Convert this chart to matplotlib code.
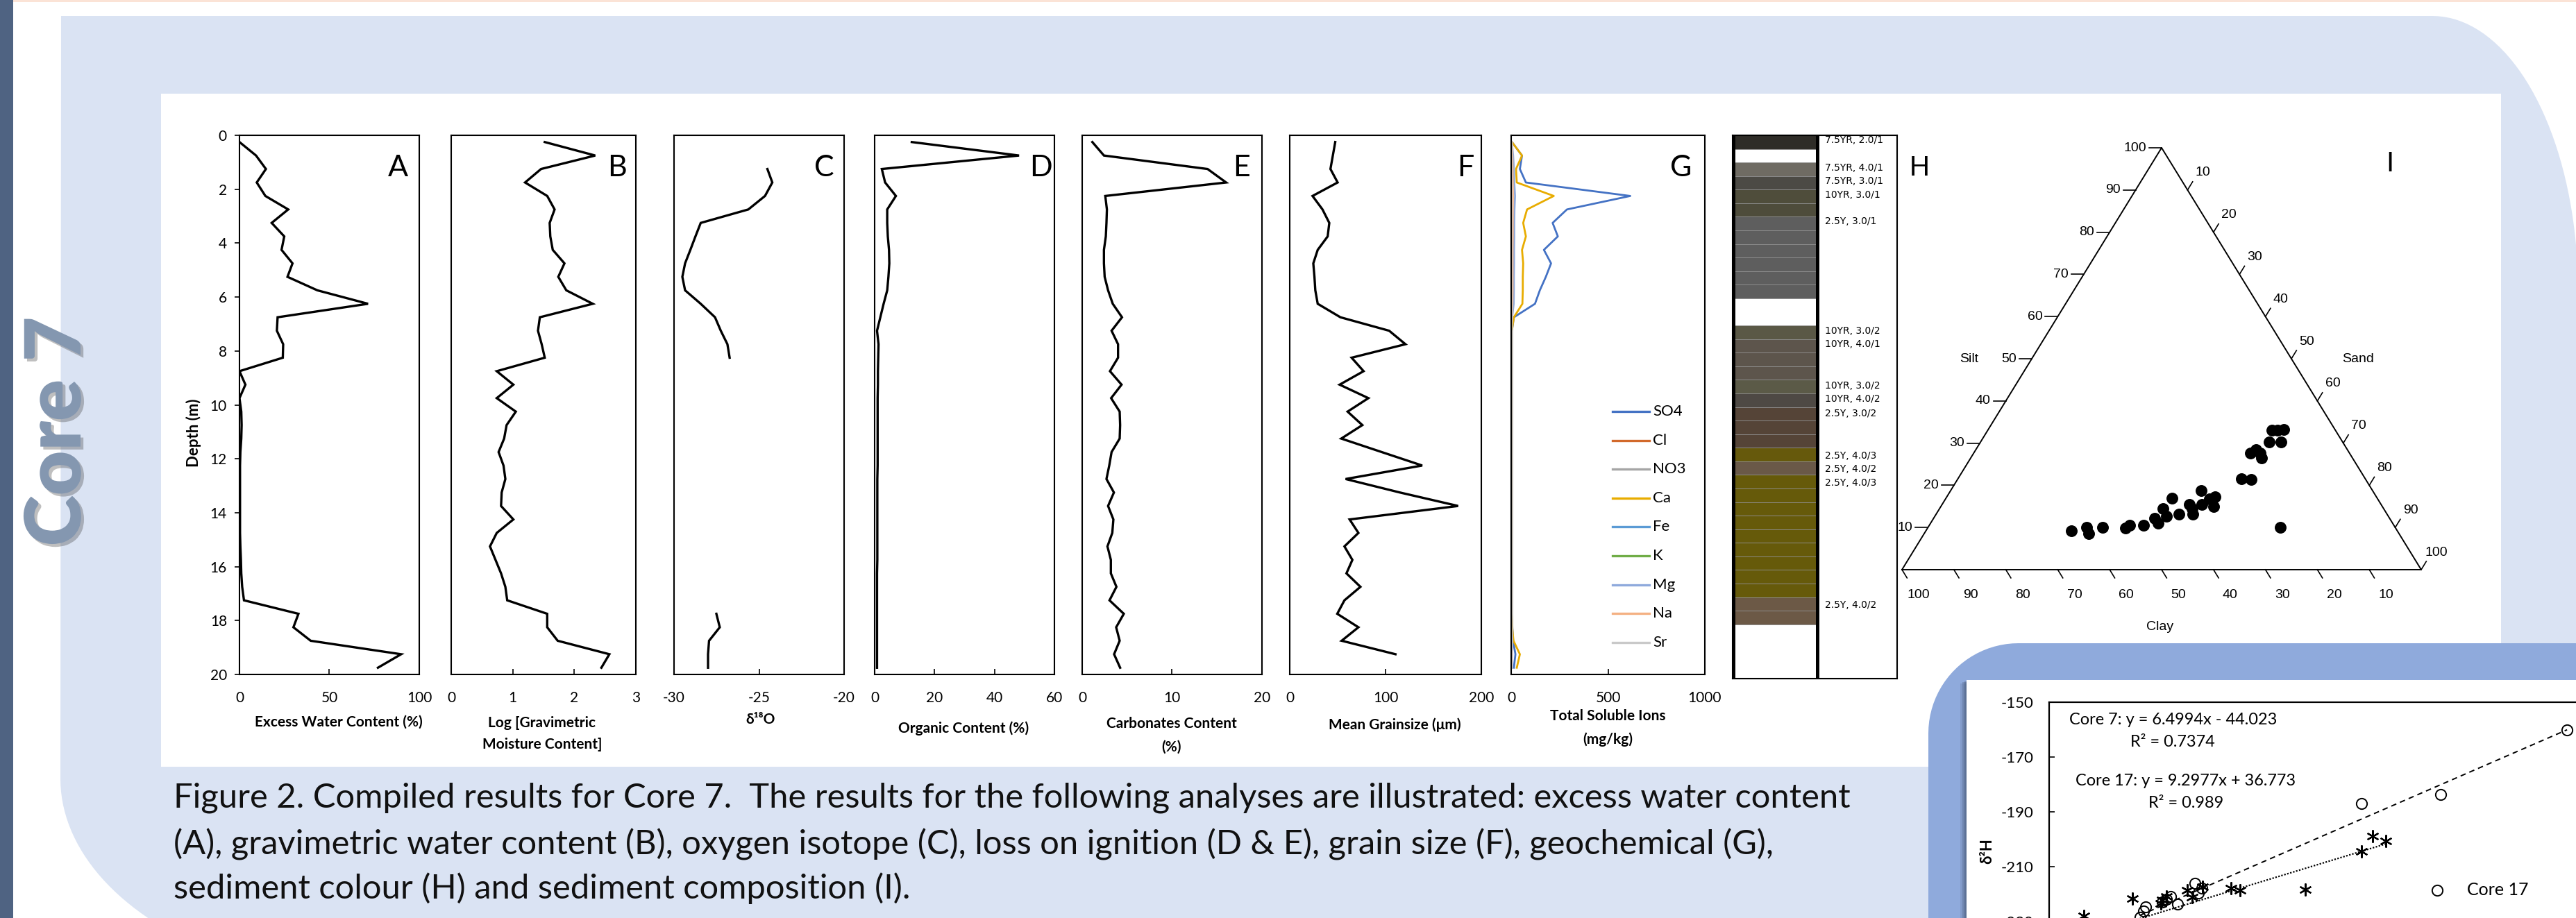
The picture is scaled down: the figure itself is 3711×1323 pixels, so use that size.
import numpy as np
import matplotlib
matplotlib.use("Agg")
import matplotlib.pyplot as plt
from matplotlib import font_manager
from matplotlib.patches import Rectangle, Polygon
from matplotlib.lines import Line2D
import matplotlib.patheffects as pe

_names = {f.name for f in font_manager.fontManager.ttflist}
CAL = "Lato" if "Lato" in _names else "DejaVu Sans"
ARIAL = "Liberation Sans" if "Liberation Sans" in _names else "DejaVu Sans"
FAM = [CAL, "DejaVu Sans"]
AFAM = [ARIAL, "DejaVu Sans"]
plt.rcParams["font.family"] = FAM
plt.rcParams["axes.unicode_minus"] = False

# ---------------------------------------------------------------- data
DEPTH = [0.25, 0.75, 1.25, 1.75, 2.25, 2.75, 3.25, 3.75, 4.25, 4.75,
         5.25, 5.75, 6.25, 6.75, 7.25, 7.75, 8.25, 8.75, 9.25, 9.75,
         10.25, 10.75, 11.25, 11.75, 12.25, 12.75, 13.25, 13.75, 14.25, 14.75,
         15.25, 15.75, 16.25, 16.75, 17.25, 17.75, 18.25, 18.75, 19.25, 19.75]

EXCESS_WATER = [0, 9.2, 14.7, 9.6, 14.4, 27.1, 17.9, 24.9, 23.4, 29.5,
                26.7, 43.3, 71.5, 21.2, 20.8, 24.3, 24.1, 0, 3.3, 0,
                1.0, 1.2, 1.0, 0.5, 0.3, 0.3, 0.3, 0.3, 0.3, 0.3,
                0.5, 0.8, 1.0, 1.5, 2.5, 32.8, 30.0, 39.6, 89.9, 77.0]

LOG_GRAV = [1.52, 2.34, 1.46, 1.20, 1.56, 1.68, 1.60, 1.61, 1.65, 1.84,
            1.74, 1.87, 2.30, 1.44, 1.41, 1.47, 1.52, 0.74, 1.01, 0.74,
            1.05, 0.90, 0.86, 0.77, 0.85, 0.88, 0.82, 0.81, 1.01, 0.74,
            0.63, 0.72, 0.81, 0.88, 0.91, 1.56, 1.56, 1.73, 2.57, 2.44]

NAN = float("nan")
D18O = [NAN, NAN, -24.51, -24.22, -24.65, -25.63, -28.43, -28.74, -29.04, -29.35,
        -29.51, -29.35, -28.43, -27.59, -27.25, -26.86, -26.73, NAN, NAN, NAN,
        NAN, NAN, NAN, NAN, NAN, NAN, NAN, NAN, NAN, NAN,
        NAN, NAN, NAN, NAN, NAN, -27.51, -27.31, -27.94, -28.00, -28.00]

ORGANIC = [12.4, 48.2, 2.4, 3.5, 7.1, 4.2, 4.2, 4.4, 4.8, 4.9,
           4.6, 4.2, 3.0, 1.9, 0.8, 1.3, 1.2, 1.1, 1.1, 1.0,
           1.0, 1.0, 1.0, 1.0, 1.0, 0.9, 0.9, 0.9, 0.9, 0.9,
           0.9, 0.9, 0.8, 0.8, 0.8, 0.8, 0.8, 0.8, 0.8, 0.8]

CARBONATES = [1.13, 2.42, 13.95, 16.01, 2.57, 2.75, 2.70, 2.63, 2.42, 2.42,
              2.50, 2.88, 3.40, 4.43, 3.27, 3.99, 3.99, 3.09, 4.38, 3.22,
              4.17, 4.22, 4.17, 3.27, 3.01, 2.70, 3.53, 2.88, 3.47, 3.35,
              2.81, 3.19, 3.19, 3.81, 3.04, 4.63, 3.78, 4.17, 3.55, 4.22]

GRAINSIZE = [47.5, 45.0, 42.5, 50.0, 23.8, 34.2, 41.3, 39.6, 29.2, 24.6,
             25.8, 26.7, 29.2, 52.9, 103.8, 120.8, 64.6, 77.1, 52.1, 82.1,
             60.4, 75.8, 53.8, 96.0, 138.3, 58.3, 115.0, 175.8, 62.5, 71.7,
             57.1, 65.4, 59.2, 73.8, 57.1, 49.6, 71.7, 54.2, 110.4, NAN]

ION_NAMES = ["SO4", "Cl", "NO3", "Ca", "Fe", "K", "Mg", "Na", "Sr"]
ION_COLORS = ["#4472C4", "#D2692B", "#A5A5A5", "#E8AC00", "#5B9BD5",
              "#70AD47", "#8FAADC", "#F4B183", "#C9C9C9"]
SO4 = [4, 56, 45, 76, 615, 288, 214, 241, 169, 206,
       179, 148, 123, 14, 4, 4, 4, 4, 4, 4,
       4, 4, 4, 4, 4, 4, 4, 4, 4, 4,
       4, 4, 4, 4, 4, 4, 6, 10, 22, 14]
CL = [1, 3, 3, 3, 5, 4, 3, 3, 3, 3,
      3, 3, 3, 1, 1, 1, 1, 1, 1, 1,
      1, 1, 1, 1, 1, 1, 1, 1, 1, 1,
      1, 1, 1, 1, 1, 1, 1, 1, 2, 1]
NO3 = [0.5, 0.5, 0.5, 0.5, 0.5, 0.5, 0.5, 0.5, 0.5, 0.5,
       0.5, 0.5, 0.5, 0.5, 0.5, 0.5, 0.5, 0.5, 0.5, 0.5,
       0.5, 0.5, 0.5, 0.5, 0.5, 0.5, 0.5, 0.5, 0.5, 0.5,
       0.5, 0.5, 0.5, 0.5, 0.5, 0.5, 0.5, 0.5, 0.5, 0.5]
CA = [4, 56, 25, 29, 220, 82, 62, 76, 56, 62,
      60, 60, 58, 14, 3, 3, 3, 3, 3, 3,
      3, 3, 3, 3, 3, 3, 3, 3, 3, 3,
      3, 3, 3, 3, 3, 3, 5, 12, 45, 29]
FE = [0.3, 0.3, 0.3, 0.3, 0.3, 0.3, 0.3, 0.3, 0.3, 0.3,
      0.3, 0.3, 0.3, 0.3, 0.3, 0.3, 0.3, 0.3, 0.3, 0.3,
      0.3, 0.3, 0.3, 0.3, 0.3, 0.3, 0.3, 0.3, 0.3, 0.3,
      0.3, 0.3, 0.3, 0.3, 0.3, 0.3, 0.3, 0.3, 0.3, 0.3]
K = [1, 2, 2, 2, 3, 2, 2, 2, 2, 2,
     2, 2, 2, 1, 1, 1, 1, 1, 1, 1,
     1, 1, 1, 1, 1, 1, 1, 1, 1, 1,
     1, 1, 1, 1, 1, 1, 1, 1, 2, 1]
MG = [3, 10, 14, 16, 20, 17, 16, 16, 15, 15,
      14, 14, 13, 5, 2, 2, 2, 2, 2, 2,
      2, 2, 2, 2, 2, 2, 2, 2, 2, 2,
      2, 2, 2, 2, 2, 2, 3, 6, 5, 4]
NA = [2, 6, 7, 8, 9, 8, 8, 8, 7, 7,
      7, 7, 6, 3, 1, 1, 1, 1, 1, 1,
      1, 1, 1, 1, 1, 1, 1, 1, 1, 1,
      1, 1, 1, 1, 1, 1, 1, 2, 3, 2]
SR = [1, 2, 2, 2, 2, 2, 2, 2, 2, 2,
      2, 2, 2, 1, 1, 1, 1, 1, 1, 1,
      1, 1, 1, 1, 1, 1, 1, 1, 1, 1,
      1, 1, 1, 1, 1, 1, 1, 1, 1, 1]
ION_VALUES = [SO4, CL, NO3, CA, FE, K, MG, NA, SR]

# sediment colour column (0.5 m intervals)
H_TOPS = [0.0, 0.5, 1.0, 1.5, 2.0, 2.5, 3.0, 3.5, 4.0, 4.5,
          5.0, 5.5, 6.0, 6.5, 7.0, 7.5, 8.0, 8.5, 9.0, 9.5,
          10.0, 10.5, 11.0, 11.5, 12.0, 12.5, 13.0, 13.5, 14.0, 14.5,
          15.0, 15.5, 16.0, 16.5, 17.0, 17.5, 18.0, 18.5, 19.0, 19.5]
H_COLORS = ["#2E2C27", "", "#6F6B63", "#4C4A45", "#4F4D3B", "#4E4C3B",
            "#5E5E5E", "#5E5E5E", "#5E5E5E", "#5E5E5E", "#5E5E5E", "#5E5E5E",
            "", "", "#5A5846", "#5D554C", "#5D554C", "#5D554C", "#5B5A47", "#4E4944",
            "#554437", "#554437", "#554437", "#66590C", "#6A5948",
            "#665A0A", "#665A0A", "#665A0A", "#665A0A", "#665A0A", "#665A0A",
            "#665A0A", "#665A0A", "#665A0A", "#6C5946", "#6C5946", "", "", "", ""]
H_LABEL_DEPTH = [0.18, 1.2, 1.69, 2.2, 3.18, 7.2, 7.7, 9.22, 9.7, 10.23,
                 11.79, 12.29, 12.8, 17.3]
H_LABELS = ["7.5YR, 2.0/1", "7.5YR, 4.0/1", "7.5YR, 3.0/1", "10YR, 3.0/1",
            "2.5Y, 3.0/1", "10YR, 3.0/2", "10YR, 4.0/1", "10YR, 3.0/2",
            "10YR, 4.0/2", "2.5Y, 3.0/2", "2.5Y, 4.0/3", "2.5Y, 4.0/2",
            "2.5Y, 4.0/3", "2.5Y, 4.0/2"]

# ternary composition (%)
CLAY = [62.8, 59.4, 59.7, 56.4, 52.0, 50.8, 48.2, 45.3, 45.1, 42.5, 42.8,
        39.5, 40.1, 36.9, 36.9, 37.4, 33.0, 34.5, 32.4, 31.0, 32.5, 23.8,
        22.1, 19.1, 17.6, 17.2, 17.5, 14.1, 11.9, 12.2, 11.1, 9.9, 22.1]
SILT = [9.2, 10.0, 8.6, 10.0, 9.8, 10.6, 10.6, 12.2, 11.1, 14.5, 12.6,
        17.0, 13.2, 15.5, 14.5, 13.2, 18.8, 15.5, 16.7, 17.3, 14.9, 21.6,
        21.3, 27.6, 28.5, 27.6, 26.4, 30.3, 30.3, 33.1, 33.1, 33.2, 10.0]
SAND = [28.0, 30.6, 31.7, 33.6, 38.2, 38.6, 41.2, 42.5, 43.8, 43.0, 44.6,
        43.5, 46.7, 47.6, 48.6, 49.4, 48.2, 50.0, 50.9, 51.7, 52.6, 54.6,
        56.6, 53.3, 53.9, 55.2, 56.1, 55.6, 57.8, 54.7, 55.8, 56.9, 67.9]
TERN_TICKS = [10, 20, 30, 40, 50, 60, 70, 80, 90, 100]

# inset: delta18O vs delta2H
C17_X = [-21.17, -23.32, -24.67, -27.51, -27.45, -27.40, -27.93, -27.81, -28.07,
         -28.35, -28.39, -28.00, -28.45]
C17_Y = [-160.1, -183.7, -187.0, -216.1, -219.5, -217.8, -220.9, -223.7, -222.9,
         -224.7, -226.2, -222.0, -228.5]
C7_X = [-24.49, -24.26, -24.67, -25.63, -26.75, -26.90, -27.38, -27.65, -27.56,
        -28.07, -28.00, -28.58, -29.41, -28.10]
C7_Y = [-198.9, -200.6, -204.4, -218.4, -218.6, -217.8, -217.3, -218.6, -221.1,
        -222.2, -221.0, -221.6, -228.0, -223.5]
C7_FIT = (6.4994, -44.023)
C17_FIT = (9.2977, 36.773)

# ---------------------------------------------------------------- figure
W, H = 3712, 1323
fig = plt.figure(figsize=(W / 100, H / 100), dpi=100)


def add_ax(x0, y0, x1, y1, **kw):
    return fig.add_axes([x0 / W, 1 - y1 / H, (x1 - x0) / W, (y1 - y0) / H], **kw)


def ftext(X, Y, s, **kw):
    return fig.text(X / W, 1 - Y / H, s, **kw)


# background decoration (pixel coordinates)
bg = fig.add_axes([0, 0, 1, 1], zorder=-10)
bg.set_xlim(0, W)
bg.set_ylim(H, 0)
bg.axis("off")
bg.add_patch(Rectangle((0, 0), 19, H, color="#4F6382", lw=0))
bg.add_patch(Rectangle((19, 0), W - 19, 3, color="#FBE3D6", lw=0))
ta = np.linspace(np.pi / 2, 0, 40)
pts = [(88, 23)] + list(zip(3504 + 210 * np.cos(ta), 420 - 397 * np.sin(ta)))
pts += [(3714, 420), (3714, H), (213, H)]
tt = np.linspace(0.734, 0, 24)
pts += list(zip(577 - 490 * np.cos(tt), 1122 + 300 * np.sin(tt)))
bg.add_patch(Polygon(pts, closed=True, color="#DAE3F3", lw=0))
bg.add_patch(Rectangle((232, 135), 3603 - 232, 1105 - 135, color="white", lw=0))
aa = np.linspace(np.pi, np.pi / 2, 24)
ipts = [(2778, H)] + list(zip(2908 + 130 * np.cos(aa), 1057 - 130 * np.sin(aa))) + [(3712, 927), (3712, H)]
bg.add_patch(Polygon(ipts, closed=True, color="#8FAADC", lw=0))
for dx, al in [(9, 0.15), (6, 0.25), (3, 0.35)]:
    bg.add_patch(Rectangle((2833 - dx, 980 + dx / 2), 3712, H, color="#3a4a66", alpha=al, lw=0))
bg.add_patch(Rectangle((2833, 980), 3712 - 2833, H - 980, color="white", lw=0))

# ---------------------------------------------------------------- depth panels
TOP, BOT = 195, 972
panels = [
    ("A", 345, 604, (0, 100), [0, 50, 100], EXCESS_WATER, 573),
    ("B", 650, 916, (0, 3), [0, 1, 2, 3], LOG_GRAV, 889),
    ("C", 971, 1216, (-30, -20), [-30, -25, -20], D18O, 1187),
    ("D", 1260, 1519, (0, 60), [0, 20, 40, 60], ORGANIC, 1500),
    ("E", 1559, 1818, (0, 20), [0, 10, 20], CARBONATES, 1789),
    ("F", 1858, 2134, (0, 200), [0, 100, 200], GRAINSIZE, 2111),
    ("G", 2177, 2456, (0, 1000), [0, 500, 1000], None, 2422),
]
for letter, x0, x1, lim, ticks, vals, lx in panels:
    ax = add_ax(x0, TOP, x1, BOT)
    ax.set_xlim(lim)
    ax.set_ylim(20, 0)
    ax.set_xticks(ticks)
    ax.tick_params(axis="x", direction="in", length=6, width=1.2, labelsize=15, pad=17,
                   top=False)
    if letter == "A":
        ax.set_yticks(range(0, 21, 2))
        ax.tick_params(axis="y", direction="out", length=5, width=1.2, labelsize=15, pad=8)
    else:
        ax.set_yticks([])
    for s in ax.spines.values():
        s.set_linewidth(1.5)
    if vals is not None:
        ax.plot(vals, DEPTH, color="k", lw=2.4, solid_joinstyle="miter")
    else:
        for name, col, v in zip(ION_NAMES, ION_COLORS, ION_VALUES):
            ax.plot(v, DEPTH, color=col, lw=2.0)
    ftext(lx, 242, letter, fontsize=31, ha="center", va="center")

# G legend
for i, (name, col) in enumerate(zip(ION_NAMES, ION_COLORS)):
    Y = 593 + i * 41.6
    fig.add_artist(Line2D([2323 / W, 2376 / W], [1 - Y / H, 1 - Y / H], color=col, lw=2.4,
                          transform=fig.transFigure))
    ftext(2381, Y, name, fontsize=16, ha="left", va="center")

# x labels
xlabels = [(488, 1041, "Excess Water Content (%)"), (781, 1042, "Log [Gravimetric"),
           (781, 1073, "Moisture Content]"), (1096, 1037, "δ¹⁸O"),
           (1388, 1050, "Organic Content (%)"), (1688, 1043, "Carbonates Content"),
           (1688, 1077, "(%)"), (2009, 1045, "Mean Grainsize (μm)"),
           (2316, 1032, "Total Soluble Ions"), (2316, 1066, "(mg/kg)")]
for X, Y, s in xlabels:
    ftext(X, Y, s, fontsize=15, fontweight="bold", ha="center", va="center")
ftext(279, 624, "Depth (m)", fontsize=16, fontweight="bold", rotation=90, ha="center", va="center")

# ---------------------------------------------------------------- H column
axh = add_ax(2496, 195, 2733, 978)
axh.set_xlim(0, 1)
axh.set_ylim(20, 0)
axh.set_xticks([])
axh.set_yticks([])
for s in axh.spines.values():
    s.set_linewidth(1.5)
for top, col in zip(H_TOPS, H_COLORS):
    if col:
        axh.barh(top + 0.25, 0.507, height=0.5, left=0.008, color=col,
                 edgecolor="#8f8f8f", linewidth=0.6)
axh.axvline(0.006, color="k", lw=3.6)
axh.axvline(0.515, color="k", lw=3.6)
for d, s in zip(H_LABEL_DEPTH, H_LABELS):
    axh.text(0.56, d, s, fontsize=10, family="DejaVu Sans", va="center", ha="left")
ftext(2765, 242, "H", fontsize=29, family=AFAM, ha="center", va="center")

# ---------------------------------------------------------------- ternary
TX0, TY0, SX, SY = 2740, 821, 7.48, 6.08
axt = add_ax(2700, 150, 3600, 930)
axt.set_xlim((2700 - TX0) / SX, (3600 - TX0) / SX)
axt.set_ylim((TY0 - 930) / SY, (TY0 - 150) / SY)
axt.axis("off")
axt.plot([0, 100, 50, 0], [0, 0, 100, 0], color="k", lw=1.4)
tk = dict(fontsize=14, family=AFAM)
for v in TERN_TICKS:
    bx = 100 - v
    axt.plot([bx, bx + 7.3 / SX], [0, -11.9 / SY], color="k", lw=1.2)
    axt.text(bx + 24 / SX, -36 / SY, str(v), ha="center", va="center", **tk)
    lx, ly = v / 2, v
    axt.plot([lx - 18 / SX, lx], [ly, ly], color="k", lw=1.2)
    axt.text(lx - 22 / SX, ly, str(v), ha="right", va="center", **tk)
    rx, ry = 50 + v / 2, 100 - v
    axt.plot([rx, rx + 7.3 / SX], [ry, ry + 11.9 / SY], color="k", lw=1.2)
    axt.text(rx + 22 / SX, ry + 25 / SY, str(v), ha="center", va="center", **tk)
tx = [sa + si / 2 for sa, si in zip(SAND, SILT)]
axt.scatter(tx, SILT, s=125, color="k", zorder=3)
ftext(2837, 518, "Silt", ha="center", va="center", **tk)
ftext(3397, 518, "Sand", ha="center", va="center", **tk)
ftext(3112, 903, "Clay", ha="center", va="center", **tk)
ftext(3443, 236, "I", fontsize=29, family=AFAM, ha="center", va="center")

# ---------------------------------------------------------------- inset
axi = add_ax(2952, 1012, 3797, 1407)
axi.set_xlim(-30, -20)
axi.set_ylim(-250, -150)
axi.set_yticks([-150, -170, -190, -210, -230])
axi.set_xticks([])
axi.tick_params(axis="y", direction="in", length=6, width=1.2, labelsize=16, pad=16)
for s in axi.spines.values():
    s.set_linewidth(1.6)
x17 = np.array([min(C17_X), max(C17_X)])
axi.plot(x17, C17_FIT[0] * x17 + C17_FIT[1], color="k", lw=1.4, ls=(0, (4, 3)))
x7 = np.array([min(C7_X), max(C7_X)])
axi.plot(x7, C7_FIT[0] * x7 + C7_FIT[1], color="k", lw=1.6, ls=(0, (1, 1)))
axi.plot(C17_X, C17_Y, ls="none", marker="o", ms=11, mfc="none", mec="k", mew=1.4)
axi.plot(C7_X, C7_Y, ls="none", marker=(6, 2, 0), ms=13, mec="k", mew=1.6)
ftext(2863, 1227, "δ²H", fontsize=16, fontweight="bold", rotation=90, ha="center", va="center")
fig.add_artist(Line2D([3511 / W], [1 - 1283 / H], ls="none", marker="o", ms=11, mfc="none",
                      mec="k", mew=1.4, transform=fig.transFigure))
ftext(3554, 1283, "Core 17", fontsize=18, ha="left", va="center")
eq1 = ftext(2981, 1037, "Core 7: y = 6.4994x - 44.023", fontsize=18, ha="left", va="center")
r1 = ftext(3130, 1070, "R² = 0.7374", fontsize=18, ha="center", va="center")
eq2 = ftext(2990, 1125, "Core 17: y = 9.2977x + 36.773", fontsize=18, ha="left", va="center")
r2 = ftext(3149, 1157, "R² = 0.989", fontsize=18, ha="center", va="center")

# ---------------------------------------------------------------- caption & title
cap1 = ftext(250, 1150, "Figure 2. Compiled results for Core 7.  The results for the following "
             "analyses are illustrated: excess water content", fontsize=28, ha="left",
             va="center", color="#111111")
cap2 = ftext(250, 1217, "(A), gravimetric water content (B), oxygen isotope (C), loss on ignition "
             "(D & E), grain size (F), geochemical (G),", fontsize=28, ha="left", va="center",
             color="#111111")
cap3 = ftext(250, 1280, "sediment colour (H) and sediment composition (I).", fontsize=28,
             ha="left", va="center", color="#111111")
core = ftext(83, 622, "Core 7", fontsize=80, fontweight="heavy", rotation=90, ha="center",
             va="center", color="#8497B0")
core.set_path_effects([pe.SimplePatchShadow(offset=(3, -3), shadow_rgbFace="#4a4a4a", alpha=0.35),
                       pe.Normal()])

# fit text sizes to the reference extents
rend = fig.canvas.get_renderer()
w = cap1.get_window_extent(rend).width
fs = cap1.get_fontsize() * 2416 / w
for t in (cap1, cap2, cap3):
    t.set_fontsize(fs)
w = eq1.get_window_extent(rend).width
fs = eq1.get_fontsize() * 299 / w
for t in (eq1, r1, eq2, r2):
    t.set_fontsize(fs)
hh = core.get_window_extent(rend).height
core.set_fontsize(core.get_fontsize() * 331 / hh)

fig.savefig("out.png", dpi=100)
